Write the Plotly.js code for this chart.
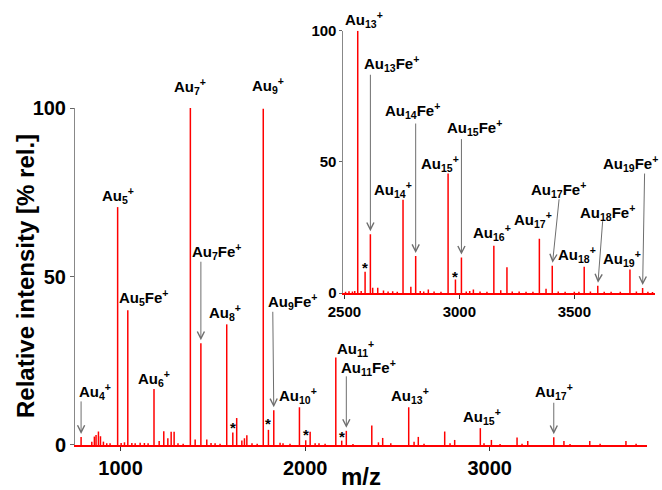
<!DOCTYPE html>
<html><head><meta charset="utf-8">
<script src="https://cdn.plot.ly/plotly-3.0.1.min.js"></script>
<style>html,body{margin:0;padding:0;background:#fff}#chart{width:662px;height:490px}</style>
</head><body><div id="chart"></div>
<script>
// ---- main spectrum (m/z, relative intensity %) ----
const mainMz = [786,844,858,867,880,891,907,925,943,984,1003,1021,1039,1061,1079,1106,1129,1149,1181,1209,1234,1256,1274,1290,1311,1339,1378,1404,1435,1467,1490,1512,1539,1575,1608,1629,1657,1671,1684,1712,1740,1773,1801,1830,1864,1880,1918,1969,2003,2027,2054,2075,2108,2166,2198,2223,2259,2361,2397,2420,2464,2561,2590,2613,2644,2756,2785,2810,2949,2969,3009,3056,3148,3175,3206,3347,3402,3435,3542,3598,3738,3793];
const mainInt = [2.4,1.0,2.5,3.0,4.0,2.6,1.0,0.5,0.5,70.6,0.6,0.8,40.0,0.6,0.5,0.7,0.6,0.5,16.6,1.2,4.1,2.0,3.9,3.9,0.5,0.4,100,1.6,30.2,1.6,0.6,0.5,0.4,35.8,3.7,8.0,1.3,2.0,2.9,0.5,0.4,99.8,4.5,10.3,0.7,0.5,0.4,11.2,1.4,3.9,0.5,0.5,0.4,26.0,1.3,4.2,0.3,5.8,0.8,2.1,0.5,11.2,1.0,2.4,0.4,4.0,0.5,1.5,5.0,0.5,1.5,0.3,2.2,0.4,1.2,2.3,1.2,0.3,1.2,0.4,1.2,0.4];

// ---- inset spectrum ----
const insetMz = [2505,2520,2535,2545,2558,2573,2590,2613,2623,2645,2670,2690,2710,2730,2755,2789,2810,2830,2845,2865,2890,2920,2951,2983,3009,3030,3045,3061,3090,3120,3150,3180,3207,3230,3260,3290,3320,3348,3377,3404,3430,3460,3500,3520,3543,3570,3602,3630,3660,3700,3742,3770,3797,3820,3840];
const insetInt = [0.5,0.7,0.6,0.8,100,0.8,8.1,22.4,2.0,2.0,1.0,0.6,0.7,0.5,35.6,2.4,14.1,0.8,0.6,1.3,0.6,0.5,45.6,5.2,13.5,0.6,0.8,1.3,0.6,0.5,18.0,1.1,9.8,0.6,0.6,0.5,0.5,20.7,1.6,10.4,0.6,0.5,0.5,0.5,10.0,0.6,2.8,0.5,0.5,0.5,9.0,0.6,1.9,0.5,0.4];

// ---- peak labels ----
const mainLabelText = ['Au<sub>4</sub><sup>+</sup>','Au<sub>5</sub><sup>+</sup>','Au<sub>5</sub>Fe<sup>+</sup>','Au<sub>6</sub><sup>+</sup>','Au<sub>7</sub><sup>+</sup>','Au<sub>7</sub>Fe<sup>+</sup>','Au<sub>8</sub><sup>+</sup>','Au<sub>9</sub><sup>+</sup>','Au<sub>9</sub>Fe<sup>+</sup>','Au<sub>10</sub><sup>+</sup>','Au<sub>11</sub><sup>+</sup>','Au<sub>11</sub>Fe<sup>+</sup>','Au<sub>13</sub><sup>+</sup>','Au<sub>15</sub><sup>+</sup>','Au<sub>17</sub><sup>+</sup>'];
const mainLabelPeak = [786,984,1039,1181,1378,1435,1575,1773,1830,1969,2166,2223,2561,2949,3347];
const mainStarPeak = [1608,1801,2003,2198];

const insetLabelText = ['Au<sub>13</sub><sup>+</sup>','Au<sub>13</sub>Fe<sup>+</sup>','Au<sub>14</sub><sup>+</sup>','Au<sub>14</sub>Fe<sup>+</sup>','Au<sub>15</sub><sup>+</sup>','Au<sub>15</sub>Fe<sup>+</sup>','Au<sub>16</sub><sup>+</sup>','Au<sub>17</sub><sup>+</sup>','Au<sub>17</sub>Fe<sup>+</sup>','Au<sub>18</sub><sup>+</sup>','Au<sub>18</sub>Fe<sup>+</sup>','Au<sub>19</sub><sup>+</sup>','Au<sub>19</sub>Fe<sup>+</sup>'];
const insetLabelPeak = [2558,2613,2755,2810,2951,3009,3150,3348,3404,3543,3602,3742,3797];
const insetStarPeak = [2590,2983];

const mainTicksX = [1000,2000,3000];
const insetTicksX = [2500,3000,3500];
const ticksY = [0,50,100];
const xTitle = 'm/z';
const yTitle = 'Relative intensity [% rel.]';

// ---- placement (pixel offsets from peak tops) ----
const mainLabelOffset = [[14,-45],[0,-12],[16,-13],[0,-11],[0,-22],[16,-92],[-2,-12],[5,-23],[19,-109],[-1,-12],[20,-9],[22,-63],[1,-12],[2,-12],[0,-46]];
const mainArrowTail = {0:[0,-37],5:[0,-83],8:[-1,-100],11:[0,-56],14:[0,-36]};
const mainStarDy = [-8,-9,-9,-7];
const insetLabelOffset = [[6,-11],[21,-171],[-10,-10],[-3,-146],[-8,-10],[13,-130],[-2,-13],[-6,-19],[6,-76],[-7,-12],[10,-73],[-8,-11],[-12,-125]];
const insetArrowTail = {1:[0,-161],3:[0,-134],5:[0,-120],8:[7,-68],10:[5,-66],12:[2,-116]};
const insetStarDy = [-7,-6];

const FONT = 'Liberation Sans, Arial, sans-serif';

function sticks(mz, inten) {
  const xs = [], ys = [];
  for (let i = 0; i < mz.length; i++) { xs.push(mz[i], mz[i], null); ys.push(0, inten[i], null); }
  return {xs, ys};
}
function heightAt(mz, inten, m) { return inten[mz.indexOf(m)]; }

const m = sticks(mainMz, mainInt);
const s = sticks(insetMz, insetInt);
const traces = [
  {x: m.xs, y: m.ys, xaxis: 'x', yaxis: 'y', type: 'scatter', mode: 'lines', line: {color: '#ff0000', width: 1.5}, hoverinfo: 'skip', showlegend: false},
  {x: s.xs, y: s.ys, xaxis: 'x2', yaxis: 'y2', type: 'scatter', mode: 'lines', line: {color: '#ff0000', width: 1.5}, hoverinfo: 'skip', showlegend: false}
];

const ann = [];
function addLabels(texts, peaks, offsets, tails, stars, starDy, mz, inten, xr, yr) {
  texts.forEach((t, i) => {
    const h = heightAt(mz, inten, peaks[i]);
    ann.push({xref: xr, yref: yr, x: peaks[i], y: h, text: t, showarrow: false,
      xshift: offsets[i][0], yshift: -offsets[i][1], xanchor: 'center', yanchor: 'middle',
      font: {family: FONT, size: 15, color: '#000', weight: 'bold'}});
    if (tails[i]) {
      ann.push({xref: xr, yref: yr, x: peaks[i], y: h, text: '', showarrow: true,
        ax: tails[i][0], ay: tails[i][1], arrowhead: 5, arrowsize: 1.4, arrowwidth: 1,
        arrowcolor: '#6e6e6e', standoff: 3, startstandoff: 0});
    }
  });
  stars.forEach((p, i) => {
    ann.push({xref: xr, yref: yr, x: p, y: heightAt(mz, inten, p), text: '*', showarrow: false,
      yshift: -starDy[i] - 3, xanchor: 'center', yanchor: 'middle',
      font: {family: FONT, size: 15, color: '#000', weight: 'bold'}});
  });
}
addLabels(mainLabelText, mainLabelPeak, mainLabelOffset, mainArrowTail, mainStarPeak, mainStarDy, mainMz, mainInt, 'x', 'y');
addLabels(insetLabelText, insetLabelPeak, insetLabelOffset, insetArrowTail, insetStarPeak, insetStarDy, insetMz, insetInt, 'x2', 'y2');

// y-axis title as a rotated paper annotation (placed where the reference draws it)
ann.push({xref: 'paper', yref: 'paper', x: -0.0859, y: 0.3976, text: yTitle, textangle: -90, showarrow: false,
  xanchor: 'center', yanchor: 'middle', font: {family: FONT, size: 24, color: '#000', weight: 'bold'}});

const tickFontMain = {family: FONT, size: 20, color: '#000', weight: 'bold'};
const tickFontInset = {family: FONT, size: 15, color: '#000', weight: 'bold'};

const layout = {
  width: 662, height: 490,
  margin: {l: 75, r: 5, t: 20, b: 45},
  paper_bgcolor: '#fff', plot_bgcolor: 'rgba(0,0,0,0)',
  showlegend: false,
  xaxis: {domain: [0, 0.9828], range: [753, 3852], anchor: 'y', showline: true, linecolor: '#ff0000', linewidth: 1.5,
    ticks: 'outside', ticklen: 4, tickcolor: '#333', tickvals: mainTicksX, ticktext: mainTicksX.map(String),
    tickfont: tickFontMain, showgrid: false, zeroline: false,
    title: {text: xTitle, font: {family: FONT, size: 24, color: '#000', weight: 'bold'}, standoff: 0}},
  yaxis: {domain: [0, 0.7929], range: [0, 100], anchor: 'x', showline: true, linecolor: '#888', linewidth: 1,
    ticks: 'outside', ticklen: 4, tickcolor: '#666', tickvals: ticksY, ticktext: ticksY.map(String),
    tickfont: tickFontMain, showgrid: false, zeroline: false},
  xaxis2: {domain: [0.4613, 0.9966], range: [2496, 3851], anchor: 'y2', showline: true, linecolor: '#ff0000', linewidth: 1.5,
    ticks: 'outside', ticklen: 4, tickcolor: '#333', tickvals: insetTicksX, ticktext: insetTicksX.map(String),
    tickfont: tickFontInset, showgrid: false, zeroline: false},
  yaxis2: {domain: [0.3576, 0.9748], range: [0, 100], anchor: 'x2', showline: true, linecolor: '#888', linewidth: 1,
    ticks: 'outside', ticklen: 3, tickcolor: '#666', tickvals: ticksY, ticktext: ticksY.map(String),
    tickfont: tickFontInset, showgrid: false, zeroline: false},
  annotations: ann
};

Plotly.newPlot('chart', traces, layout, {displayModeBar: false, staticPlot: true});
</script>
</body></html>
